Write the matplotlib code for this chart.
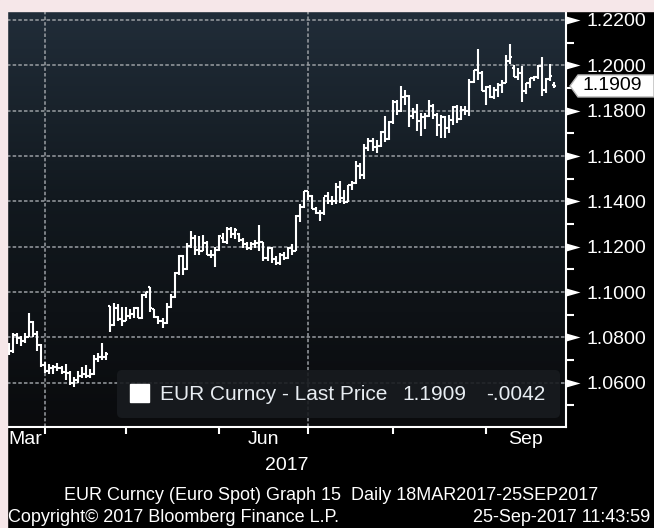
import numpy as np
import pandas as pd
import matplotlib
matplotlib.use("Agg")
import matplotlib.pyplot as plt
from matplotlib.patches import FancyBboxPatch, Rectangle, Polygon
from matplotlib.path import Path
from matplotlib.colors import LinearSegmentedColormap
from matplotlib.transforms import IdentityTransform

plt.rcParams['font.family'] = ['Liberation Sans', 'DejaVu Sans']

W, H = 654, 528
PINK = '#f6e7e9'
GRID = '#9a9ea3'

# EUR Curncy daily bars, 20 Mar 2017 - 25 Sep 2017
dates = pd.bdate_range("2017-03-20", "2017-09-25")

opens = [
    1.0740, 1.0742, 1.0810, 1.0796, 1.0783, 1.0800, 1.0866, 1.0815, 1.0768, 1.0678,
    1.0652, 1.0667, 1.0668, 1.0663, 1.0646, 1.0643, 1.0600, 1.0612, 1.0630, 1.0640,
    1.0628, 1.0640, 1.0705, 1.0715, 1.0715, 1.0937, 1.0855, 1.0930, 1.0880, 1.0874,
    1.0896, 1.0905, 1.0930, 1.0885, 1.0985, 1.1022, 1.0925, 1.0890, 1.0870, 1.0865,
    1.0934, 1.0980, 1.1085, 1.1160, 1.1100, 1.1205, 1.1240, 1.1185, 1.1183, 1.1215,
    1.1165, 1.1165, 1.1185, 1.1240, 1.1220, 1.1280, 1.1255, 1.1255, 1.1230, 1.1210,
    1.1195, 1.1210, 1.1215, 1.1220, 1.1150, 1.1195, 1.1145, 1.1130, 1.1165, 1.1150,
    1.1195, 1.1180, 1.1335, 1.1375, 1.1445, 1.1425, 1.1365, 1.1350, 1.1350, 1.1422,
    1.1400, 1.1400, 1.1465, 1.1415, 1.1395, 1.1470, 1.1480, 1.1555, 1.1515, 1.1635,
    1.1665, 1.1640, 1.1645, 1.1705, 1.1675, 1.1750, 1.1840, 1.1800, 1.1860, 1.1865,
    1.1775, 1.1795, 1.1755, 1.1770, 1.1775, 1.1820, 1.1780, 1.1735, 1.1770, 1.1725,
    1.1760, 1.1815, 1.1765, 1.1805, 1.1800, 1.1925, 1.1978, 1.1965, 1.1885, 1.1905,
    1.1860, 1.1890, 1.1915, 1.1920, 1.2020, 1.1990, 1.1950, 1.1965, 1.1885, 1.1920,
    1.1945, 1.1950, 1.1995, 1.1890, 1.1940, 1.1915,
]
highs = [
    1.0776, 1.0820, 1.0818, 1.0806, 1.0818, 1.0906, 1.0874, 1.0826, 1.0772, 1.0690,
    1.0683, 1.0680, 1.0689, 1.0675, 1.0682, 1.0650, 1.0625, 1.0650, 1.0670, 1.0680,
    1.0660, 1.0722, 1.0730, 1.0777, 1.0737, 1.0937, 1.0950, 1.0945, 1.0935, 1.0935,
    1.0925, 1.0935, 1.0935, 1.0990, 1.0998, 1.1023, 1.0925, 1.0895, 1.0885, 1.0950,
    1.0990, 1.1090, 1.1163, 1.1165, 1.1215, 1.1268, 1.1250, 1.1245, 1.1250, 1.1225,
    1.1185, 1.1200, 1.1250, 1.1260, 1.1285, 1.1285, 1.1283, 1.1260, 1.1240, 1.1220,
    1.1220, 1.1230, 1.1296, 1.1220, 1.1200, 1.1200, 1.1160, 1.1170, 1.1175, 1.1200,
    1.1210, 1.1340, 1.1388, 1.1445, 1.1445, 1.1430, 1.1375, 1.1360, 1.1420, 1.1440,
    1.1425, 1.1480, 1.1490, 1.1450, 1.1470, 1.1490, 1.1580, 1.1568, 1.1655, 1.1680,
    1.1680, 1.1670, 1.1712, 1.1777, 1.1755, 1.1845, 1.1845, 1.1910, 1.1890, 1.1870,
    1.1810, 1.1830, 1.1790, 1.1790, 1.1845, 1.1830, 1.1790, 1.1780, 1.1775, 1.1780,
    1.1820, 1.1825, 1.1820, 1.1820, 1.1940, 1.1980, 1.2070, 1.1975, 1.1910, 1.1915,
    1.1905, 1.1920, 1.1935, 1.2045, 1.2092, 1.2000, 1.1990, 1.1995, 1.1920, 1.1945,
    1.1955, 1.2000, 1.2035, 1.1945, 1.2005, 1.1925,
]
lows = [
    1.0722, 1.0733, 1.0772, 1.0760, 1.0776, 1.0800, 1.0803, 1.0740, 1.0670, 1.0645,
    1.0640, 1.0640, 1.0650, 1.0640, 1.0610, 1.0590, 1.0583, 1.0598, 1.0620, 1.0622,
    1.0620, 1.0634, 1.0690, 1.0700, 1.0700, 1.0822, 1.0850, 1.0870, 1.0850, 1.0870,
    1.0880, 1.0885, 1.0885, 1.0880, 1.0975, 1.0910, 1.0885, 1.0860, 1.0840, 1.0860,
    1.0930, 1.0975, 1.1075, 1.1075, 1.1095, 1.1195, 1.1165, 1.1165, 1.1180, 1.1165,
    1.1150, 1.1110, 1.1180, 1.1215, 1.1210, 1.1240, 1.1235, 1.1220, 1.1195, 1.1185,
    1.1185, 1.1195, 1.1180, 1.1135, 1.1135, 1.1130, 1.1120, 1.1120, 1.1140, 1.1145,
    1.1165, 1.1180, 1.1310, 1.1370, 1.1405, 1.1365, 1.1345, 1.1312, 1.1340, 1.1390,
    1.1385, 1.1390, 1.1392, 1.1390, 1.1395, 1.1450, 1.1475, 1.1500, 1.1500, 1.1620,
    1.1620, 1.1612, 1.1640, 1.1660, 1.1670, 1.1740, 1.1780, 1.1795, 1.1825, 1.1730,
    1.1765, 1.1710, 1.1690, 1.1720, 1.1770, 1.1765, 1.1690, 1.1680, 1.1680, 1.1700,
    1.1735, 1.1745, 1.1760, 1.1780, 1.1775, 1.1920, 1.1935, 1.1885, 1.1825, 1.1855,
    1.1850, 1.1860, 1.1880, 1.1920, 1.2005, 1.1950, 1.1935, 1.1840, 1.1875, 1.1900,
    1.1930, 1.1940, 1.1865, 1.1880, 1.1930, 1.1900,
]
closes = [
    1.0742, 1.0810, 1.0796, 1.0783, 1.0800, 1.0866, 1.0815, 1.0768, 1.0678, 1.0652,
    1.0667, 1.0668, 1.0663, 1.0646, 1.0643, 1.0600, 1.0612, 1.0630, 1.0640, 1.0628,
    1.0640, 1.0705, 1.0715, 1.0715, 1.0725, 1.0855, 1.0930, 1.0880, 1.0874, 1.0896,
    1.0905, 1.0930, 1.0885, 1.0985, 1.0998, 1.0930, 1.0890, 1.0870, 1.0865, 1.0934,
    1.0980, 1.1085, 1.1160, 1.1100, 1.1205, 1.1240, 1.1185, 1.1183, 1.1215, 1.1165,
    1.1165, 1.1185, 1.1245, 1.1220, 1.1280, 1.1255, 1.1275, 1.1230, 1.1210, 1.1195,
    1.1210, 1.1215, 1.1220, 1.1150, 1.1195, 1.1145, 1.1130, 1.1165, 1.1150, 1.1195,
    1.1180, 1.1335, 1.1375, 1.1445, 1.1425, 1.1365, 1.1350, 1.1350, 1.1422, 1.1400,
    1.1400, 1.1465, 1.1415, 1.1395, 1.1470, 1.1480, 1.1555, 1.1515, 1.1635, 1.1665,
    1.1640, 1.1645, 1.1705, 1.1675, 1.1750, 1.1840, 1.1800, 1.1860, 1.1865, 1.1775,
    1.1795, 1.1755, 1.1770, 1.1775, 1.1820, 1.1780, 1.1735, 1.1770, 1.1725, 1.1760,
    1.1815, 1.1765, 1.1805, 1.1800, 1.1925, 1.1978, 1.1965, 1.1885, 1.1905, 1.1860,
    1.1890, 1.1915, 1.1920, 1.2020, 1.2035, 1.1950, 1.1965, 1.1885, 1.1920, 1.1945,
    1.1950, 1.1995, 1.1890, 1.1940, 1.1951, 1.1909,
]

y_major = [1.06, 1.08, 1.10, 1.12, 1.14, 1.16, 1.18, 1.20, 1.22]
y_minor = [1.05, 1.07, 1.09, 1.11, 1.13, 1.15, 1.17, 1.19, 1.21]
month_labels = {3: "Mar", 6: "Jun", 9: "Sep"}
quarter_months = [4, 7]


def fx(px):
    return px / W


def fy(py):
    return 1 - py / H


fig = plt.figure(figsize=(W / 100, H / 100), dpi=100, facecolor='black')
fig.patches.append(Rectangle((0, fy(11)), 1, 1 - fy(11), transform=fig.transFigure,
                             color=PINK, zorder=0))
fig.patches.append(Rectangle((0, 0), fx(7), 1, transform=fig.transFigure,
                             color=PINK, zorder=0))

ax = fig.add_axes([fx(7), fy(427), fx(566) - fx(7), fy(11) - fy(427)])
ax.set_facecolor('black')

# vertical gradient behind the bars
grad = LinearSegmentedColormap.from_list(
    'bg', [(0.0, '#0a0b0d'), (0.55, '#12191f'), (1.0, '#212d39')])
ax.imshow(np.linspace(0, 1, 256).reshape(-1, 1), extent=[0, 1, 0, 1], origin='lower',
          transform=ax.transAxes, aspect='auto', cmap=grad, zorder=0)

x = np.arange(len(dates))
n = len(x)
xmin, xmax = -0.5, 137.9
ymin, ymax = 1.04046, 1.22397
ax.set_xlim(xmin, xmax)
ax.set_ylim(ymin, ymax)

# month boundaries: last session before each month starts
month_start = [i for i in range(1, n) if dates[i].month != dates[i - 1].month]
bounds = [i - 1 for i in month_start]

for v in y_major:
    ax.axhline(v, color=GRID, lw=1.1, ls=(0, (2.3, 1.4)), zorder=1)
for i, b in zip(month_start, bounds):
    if dates[i].month in quarter_months:
        ax.axvline(b, color=GRID, lw=1.1, ls=(0, (2.3, 1.4)), zorder=1)

# OHLC bars
ax.vlines(x, lows, highs, color='white', lw=1.5, zorder=4)
ax.hlines(opens, x - 0.5, x, color='white', lw=1.5, zorder=4)
ax.hlines(closes, x, x + 0.5, color='white', lw=1.5, zorder=4)

# axes styling
for s in ['top', 'left']:
    ax.spines[s].set_visible(False)
for s in ['right', 'bottom']:
    ax.spines[s].set_color('white')
    ax.spines[s].set_linewidth(1.5)
    ax.spines[s].set_zorder(6)

ax.yaxis.tick_right()
ax.set_yticks(y_major)
ax.set_yticklabels([f"{v:.4f}" for v in y_major])
ax.set_yticks(y_minor, minor=True)
ax.tick_params(axis='y', which='major', length=0, pad=15, labelsize=14,
               labelcolor='white')
ax.tick_params(axis='y', which='minor', length=6, width=1.5, color='white',
               direction='out')
ax.set_xticks(bounds)
ax.set_xticklabels([])
ax.tick_params(axis='x', which='major', length=5, width=1.5, color='white',
               direction='out')

# triangle markers on the price axis
tri = Path([(0, -4), (0, 4), (14, 0), (0, -4)],
           [Path.MOVETO, Path.LINETO, Path.LINETO, Path.CLOSEPOLY])
ax.plot([xmax] * len(y_major), y_major, ls='none', marker=tri, ms=20.2,
        color='white', mew=0, clip_on=False, zorder=7)

# month labels centred in their span
edges = [xmin] + bounds + [xmax]
months = [dates[0].month] + [dates[i].month for i in month_start]
for m, left, right in zip(months, edges[:-1], edges[1:]):
    if m not in month_labels:
        continue
    if left == xmin:
        ax.text(xmin + 0.3, -0.031, month_labels[m], transform=ax.get_xaxis_transform(),
                ha='left', va='center', size=14, color='white')
    else:
        ax.text((left + right) / 2, -0.031, month_labels[m],
                transform=ax.get_xaxis_transform(),
                ha='center', va='center', size=14, color='white')
fig.text(fx(287), fy(465), str(dates[0].year), ha='center', va='center', size=14,
         color='white')

# last price tag
last = closes[-1]
yc = ax.transData.transform((xmax, last))[1]
x0 = ax.transData.transform((xmax, last))[0]
tag = Polygon([(x0 + 4, yc), (x0 + 12, yc + 11), (W, yc + 11), (W, yc - 11),
               (x0 + 12, yc - 11)], closed=True, transform=IdentityTransform(),
              fc='white', ec='#b8b8b8', lw=1, zorder=8)
fig.patches.append(tag)
fig.text(fx(x0 + 17), yc / H, f"{last:.4f}", ha='left', va='center', size=14,
         color='black', zorder=9)

# legend panel
chg = closes[-1] - closes[-2]
chg_txt = f"{chg:.4f}".replace("0.", ".")
fig.patches.append(FancyBboxPatch((fx(117), fy(418)), fx(560) - fx(117),
                                  fy(370) - fy(418),
                                  boxstyle='round,pad=0,rounding_size=0.008',
                                  mutation_aspect=W / H, transform=fig.transFigure,
                                  fc='#181b1f', ec='none', alpha=0.9, zorder=8))
fig.patches.append(Rectangle((fx(130), fy(402)), fx(19), 18 / H,
                             transform=fig.transFigure, color='white', zorder=9))
leg_y = fy(394)
fig.text(fx(160), leg_y, "EUR Curncy - Last Price", ha='left', va='center', size=15,
         color='#e8edf2', zorder=10)
fig.text(fx(402), leg_y, f"{last:.4f}", ha='left', va='center', size=15,
         color='#e8edf2', zorder=10)
fig.text(fx(486), leg_y, chg_txt, ha='left', va='center', size=15,
         color='#e8edf2', zorder=10)

# footer
fig.text(fx(331), fy(496), "EUR Curncy (Euro Spot) Graph 15  Daily 18MAR2017-25SEP2017",
         ha='center', va='center', size=13, color='white')
fig.text(fx(8), fy(518), "Copyright\u00a9 2017 Bloomberg Finance L.P.", ha='left',
         va='center', size=13, color='white')
fig.text(fx(650), fy(518), "25-Sep-2017 11:43:59", ha='right', va='center', size=13,
         color='white')

fig.savefig("out.png", dpi=100, facecolor=fig.get_facecolor())
